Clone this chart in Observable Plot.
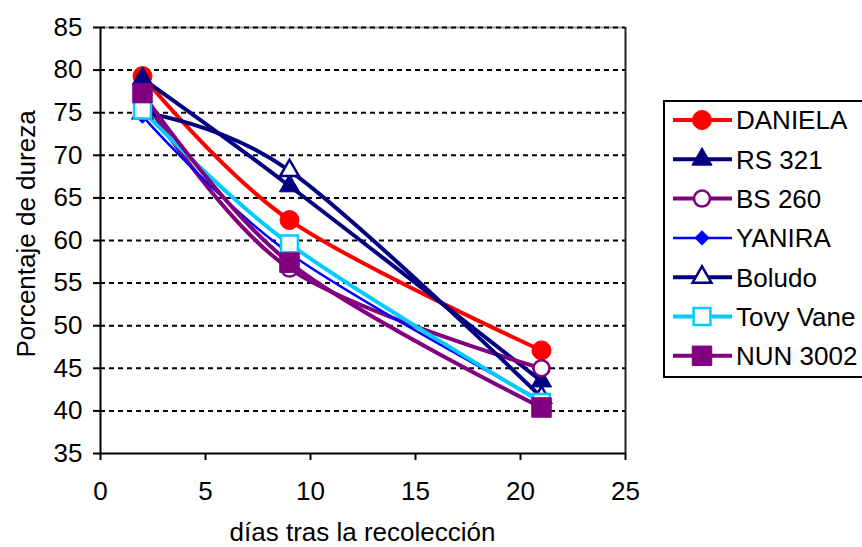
<!DOCTYPE html>
<html><head><meta charset="utf-8">
<script src="https://cdn.jsdelivr.net/npm/d3@7"></script>
<script src="https://cdn.jsdelivr.net/npm/@observablehq/plot@0.6"></script>
<style>body{margin:0;background:#fff;} #chart{position:relative;width:862px;height:547px;overflow:hidden;}</style>
</head><body><div id="chart"></div>
<script>
// ---- data ----
const days = [2, 9, 21];
const seriesNames = ["DANIELA", "RS 321", "BS 260", "YANIRA", "Boludo", "Tovy Vane", "NUN 3002"];
const daniela  = [79.3, 62.4, 47.1];
const rs321    = [79.0, 66.4, 43.5];
const bs260    = [76.8, 56.7, 45.0];
const yanira   = [74.6, 58.5, 41.2];
const boludo   = [75.0, 68.2, 41.6];
const tovyVane = [75.3, 59.6, 41.0];
const nun3002  = [77.3, 57.4, 40.4];
const xTicks = [0, 5, 10, 15, 20, 25];
const yTicks = [35, 40, 45, 50, 55, 60, 65, 70, 75, 80, 85];
const gridValues = [40, 45, 50, 55, 60, 65, 70, 75, 80, 85];
const xTitle = "días tras la recolección";
const yTitle = "Porcentaje de dureza";

// ---- styles ----
const styles = {
  "DANIELA":   {color: "#FF0000", symbol: "circle",   r: 9.5, open: false, width: 4},
  "RS 321":    {color: "#000080", symbol: "triangle", r: 7.5, open: false, width: 4},
  "BS 260":    {color: "#800080", symbol: "circle",   r: 8,   open: true,  width: 4},
  "YANIRA":    {color: "#0000FF", symbol: "diamond2", r: 6.5, open: false, width: 2.5},
  "Boludo":    {color: "#000080", symbol: "triangle", r: 7,   open: true,  width: 4},
  "Tovy Vane": {color: "#00CCFF", symbol: "square",   r: 9.5, open: true,  width: 4},
  "NUN 3002":  {color: "#800080", symbol: "square",   r: 11,  open: false, width: 4}
};
const values = [daniela, rs321, bs260, yanira, boludo, tovyVane, nun3002];
const table = seriesNames.map((name, i) => days.map((d, j) => ({series: name, day: d, value: values[i][j]})));

const FONT = "'Liberation Sans', Arial, sans-serif";
const FS = 26;

const marks = [
  Plot.ruleY([85], {stroke: "#a0a0a0", strokeWidth: 2}),
  Plot.ruleY(gridValues, {stroke: "#000", strokeWidth: 2, strokeDasharray: "5,4"}),
  Plot.ruleX([25], {stroke: "#222", strokeWidth: 2}),
  Plot.ruleX([0], {stroke: "#000", strokeWidth: 2}),
  Plot.ruleY([35], {stroke: "#000", strokeWidth: 2}),
  Plot.axisX({ticks: xTicks, tickSize: 7, tickPadding: 21, strokeWidth: 2, label: null, fontSize: FS}),
  Plot.axisY({ticks: yTicks, tickSize: 7, tickPadding: 11, strokeWidth: 2, label: null, fontSize: FS})
];
table.forEach((data, i) => {
  const s = styles[seriesNames[i]];
  marks.push(Plot.line(data, {x: "day", y: "value", stroke: s.color, strokeWidth: s.width, curve: "cardinal"}));
});
table.forEach((data, i) => {
  const s = styles[seriesNames[i]];
  marks.push(Plot.dot(data, {x: "day", y: "value", symbol: () => s.symbol, r: s.r,
    fill: s.open ? "#fff" : s.color, stroke: s.color, strokeWidth: s.open ? 2.5 : 1}));
});

const chart = Plot.plot({
  width: 862, height: 547,
  marginLeft: 100, marginRight: 237, marginTop: 27, marginBottom: 94,
  style: {fontFamily: FONT, fontSize: FS + "px", color: "#000", background: "#fff", overflow: "visible"},
  x: {domain: [0, 25]},
  y: {domain: [35, 85]},
  symbol: {type: "identity"},
  marks
});
document.getElementById("chart").appendChild(chart);

// titles and legend
const svg = d3.select(chart);
svg.append("text").attr("x", 362.5).attr("y", 541).attr("text-anchor", "middle")
  .attr("font-family", FONT).attr("font-size", FS).attr("fill", "#000").text(xTitle);
svg.append("text").attr("transform", "translate(35,234) rotate(-90)").attr("text-anchor", "middle")
  .attr("font-family", FONT).attr("font-size", FS).attr("fill", "#000").text(yTitle);

const lg = svg.append("g").attr("text-anchor", "start");
lg.append("rect").attr("x", 664).attr("y", 101).attr("width", 220).attr("height", 276)
  .attr("fill", "#fff").attr("stroke", "#000").attr("stroke-width", 2);
const symMap = {circle: d3.symbolCircle, triangle: d3.symbolTriangle, diamond2: d3.symbolDiamond2, square: d3.symbolSquare};
seriesNames.forEach((name, i) => {
  const s = styles[name];
  const y = 120 + i * 39.3;
  lg.append("line").attr("x1", 673).attr("x2", 732).attr("y1", y).attr("y2", y)
    .attr("stroke", s.color).attr("stroke-width", s.width);
  lg.append("path").attr("transform", `translate(702,${y})`)
    .attr("d", d3.symbol(symMap[s.symbol], Math.PI * s.r * s.r)())
    .attr("fill", s.open ? "#fff" : s.color).attr("stroke", s.color).attr("stroke-width", s.open ? 2.5 : 1);
  lg.append("text").attr("x", 736).attr("y", y).attr("dy", "0.36em").attr("text-anchor", "start")
    .attr("font-family", FONT).attr("font-size", FS).attr("fill", "#000").text(name);
});
</script>
</body></html>
